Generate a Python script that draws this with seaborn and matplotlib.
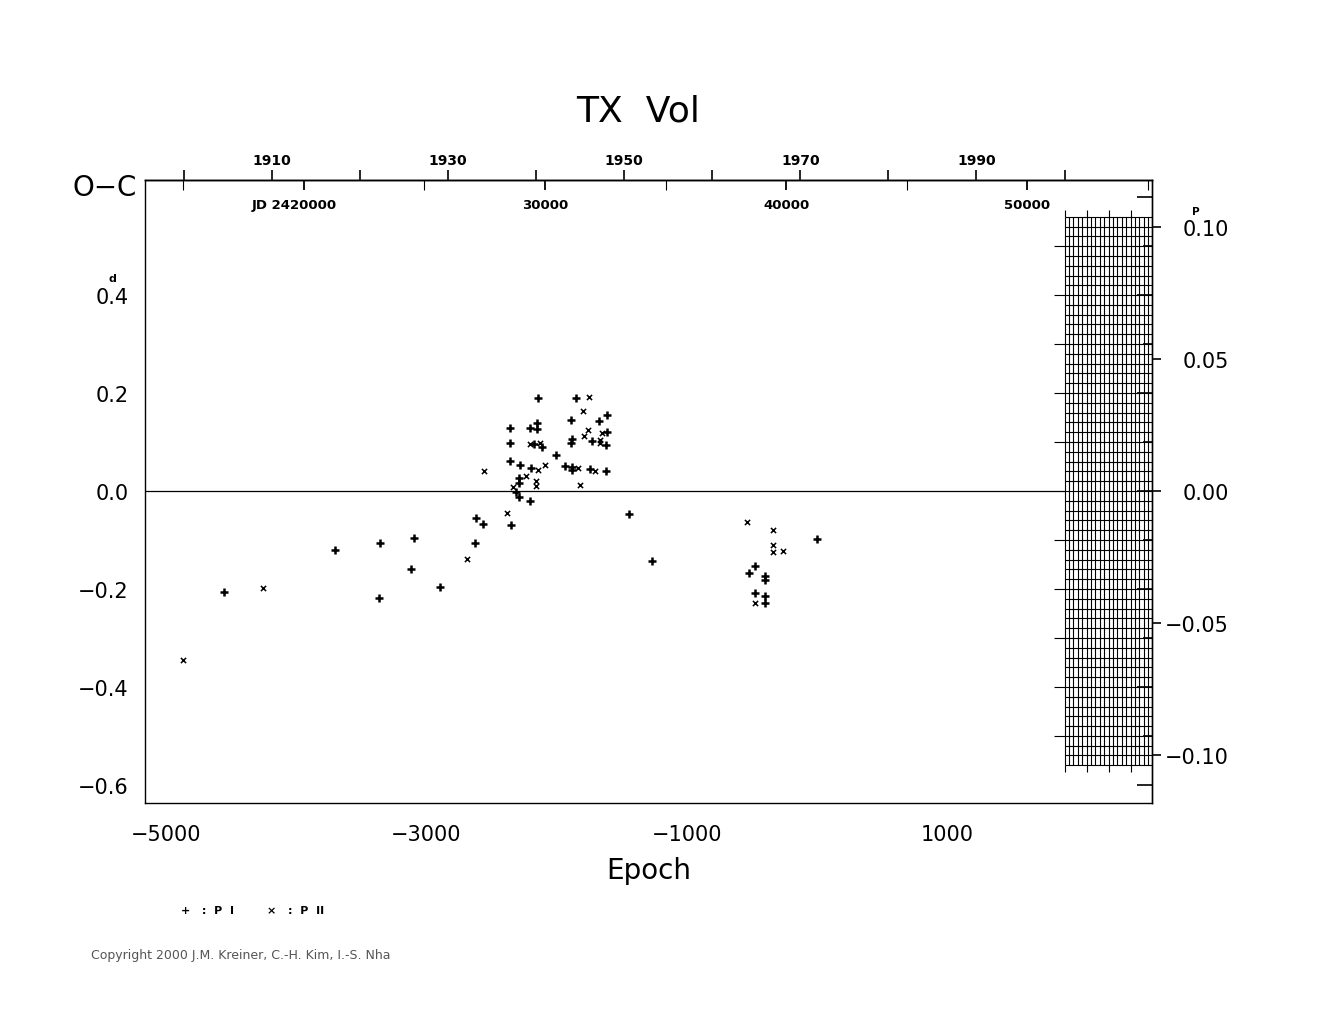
import numpy as np
import pandas as pd
import matplotlib
matplotlib.use('Agg')
import matplotlib.pyplot as plt
import seaborn as sns

# O-C of times of minima (days) against epoch
ep_p1 = [-4552, -3702, -3359, -3366, -3095, -3118, -2898, -2627, -2619, -2563,
         -2145, -1853, -1615, -1889, -1674, -2356, -2207, -2148, -2148, -1615,
         -1882, -1887, -1728, -1621, -2356, -2177, -2110, -2005, -2356, -2283,
         -2199, -1935, -1884, -1879, -1741, -1623, -2289, -2291, -2312, -2287,
         -2207, -2348, -1444, -1270, 0, -474, -522, -402, -397, -474,
         -402, -397]
oc_p1 = [-0.207, -0.120, -0.106, -0.218, -0.096, -0.159, -0.195, -0.106, -0.056, -0.067,
         0.190, 0.190, 0.156, 0.145, 0.143, 0.129, 0.129, 0.139, 0.127, 0.121,
         0.106, 0.098, 0.103, 0.094, 0.099, 0.097, 0.089, 0.074, 0.062, 0.053,
         0.046, 0.052, 0.050, 0.042, 0.045, 0.040, 0.027, 0.016, -0.001, -0.013,
         -0.020, -0.069, -0.046, -0.143, -0.098, -0.153, -0.167, -0.174, -0.181, -0.208,
         -0.214, -0.228]

ep_p2 = [-4867, -4257, -2691, -2558, -1751, -1797, -1757, -1654, -1790, -1667,
         -1667, -2204, -2127, -2145, -2089, -1833, -1703, -2235, -2160, -2156,
         -1818, -2333, -2384, -540, -338, -336, -338, -261, -479]
oc_p2 = [-0.346, -0.199, -0.139, 0.040, 0.192, 0.163, 0.125, 0.118, 0.112, 0.105,
         0.098, 0.097, 0.099, 0.043, 0.054, 0.047, 0.040, 0.030, 0.020, 0.011,
         0.012, 0.008, -0.044, -0.063, -0.079, -0.110, -0.124, -0.122, -0.229]

# ephemeris used for the top (JD / year) and right (phase) scales
T0 = 2441286.0
PERIOD = 5.40

year_ticks = list(range(1900, 2001, 10))
year_labels = [str(y) if (y - 1910) % 20 == 0 and y < 2000 else '' for y in year_ticks]
jd_major = [2420000, 2430000, 2440000, 2450000]
jd_labels = ['JD 2420000    ', '30000', '40000', '50000']
jd_minor = [2415000, 2425000, 2435000, 2445000, 2455000]
p_ticks = [-0.10, -0.05, 0.0, 0.05, 0.10]
p_labels = ['\u22120.10', '\u22120.05', '0.00', '0.05', '0.10']
d_ticks = [-0.6, -0.4, -0.2, 0.0, 0.2, 0.4, 0.6]
d_labels = ['\u22120.6', '\u22120.4', '\u22120.2', '0.0', '0.2', '0.4', '']


def ep2jd(e):
    return T0 + PERIOD * np.asarray(e, dtype=float)


def jd2ep(jd):
    return (np.asarray(jd, dtype=float) - T0) / PERIOD


def ep2yr(e):
    return 2000.0 + (ep2jd(e) - 2451545.0) / 365.25


def yr2ep(y):
    return jd2ep(2451545.0 + (np.asarray(y, dtype=float) - 2000.0) * 365.25)


df1 = pd.DataFrame({'epoch': ep_p1, 'oc': oc_p1})
df2 = pd.DataFrame({'epoch': ep_p2, 'oc': oc_p2})

sns.set_style('white')
plt.rcParams['font.family'] = ['DejaVu Sans']
plt.rcParams.update({'text.color': 'black', 'axes.labelcolor': 'black',
                     'xtick.color': 'black', 'ytick.color': 'black'})

fig = plt.figure(figsize=(13.25, 10.2), dpi=100)
ax = fig.add_axes([145 / 1325, 1 - 804 / 1020, 1007 / 1325, 623 / 1020])

sns.scatterplot(data=df1, x='epoch', y='oc', marker='+', s=40, linewidth=1.8,
                color='black', ax=ax)
sns.scatterplot(data=df2, x='epoch', y='oc', marker='x', s=14, linewidth=1.1,
                color='black', ax=ax)

ax.set_xlim(-5161, 2571)
ax.set_ylim(-0.637, 0.635)

# zero line up to the hatched block
e2000 = float(yr2ep(2000))
ax.hlines(0, -5161, e2000, color='black', lw=0.9)

# grid block on the right
gx = yr2ep(2000 + 0.5 * np.arange(21))
gy = np.arange(-28, 29) * 0.02
ax.vlines(gx, -0.56, 0.56, color='black', lw=0.8)
ax.hlines(gy, e2000, 2571, color='black', lw=0.8)
gt = yr2ep([2000, 2002.5, 2005, 2007.5])
ax.vlines(gt, 0.56, 0.573, color='black', lw=0.8)
ax.vlines(gt, -0.573, -0.56, color='black', lw=0.8)
ax.hlines([-0.5, -0.4, -0.3, -0.2, -0.1, 0.1, 0.2, 0.3, 0.4, 0.5],
          e2000 - 84, e2000, color='black', lw=0.8)

for s in ax.spines.values():
    s.set_linewidth(1.0)
    s.set_color('black')

ax.set_xticks([-5000, -3000, -1000, 1000])
ax.set_xticks([-4000, -2000, 0, 2000], minor=True)
ax.set_yticks(d_ticks, labels=d_labels)
ax.set_yticks([-0.5, -0.3, -0.1, 0.1, 0.3, 0.5], minor=True)
ax.tick_params(which='both', direction='in', top=False, right=True, width=1.2,
               colors='black', labelsize=15)
ax.tick_params(which='major', length=10.5)
ax.tick_params(which='minor', length=6.5)
ax.tick_params(axis='x', pad=15)
ax.tick_params(axis='y', pad=12)
ax.set_xlabel('Epoch', fontsize=20, labelpad=9, color='black')
ax.set_ylabel('')

# top scales: calendar years and JD
sec_yr = ax.secondary_xaxis('top', functions=(ep2yr, yr2ep))
sec_yr.set_xticks(year_ticks, labels=year_labels, fontweight='bold', fontsize=10)
sec_yr.tick_params(direction='out', length=7, width=1.2, pad=2, colors='black')
sec_yr.spines['top'].set_linewidth(1.0)

sec_jd = ax.secondary_xaxis('top', functions=(ep2jd, jd2ep))
sec_jd.set_xticks(jd_major, labels=jd_labels, fontweight='bold', fontsize=9.5)
sec_jd.set_xticks(jd_minor, minor=True)
sec_jd.tick_params(which='both', direction='in', length=7.5, pad=-22, colors='black')
sec_jd.tick_params(which='major', width=1.3)
sec_jd.tick_params(which='minor', width=0.8)
sec_jd.spines['top'].set_linewidth(1.0)

# right scale in units of the period
sec_p = ax.secondary_yaxis('right', functions=(lambda d: d / PERIOD, lambda p: p * PERIOD))
sec_p.set_yticks(p_ticks, labels=p_labels, fontsize=15, ha='right')
sec_p.tick_params(direction='out', length=6.5, width=1.2, pad=49, colors='black')
sec_p.spines['right'].set_linewidth(1.0)

# unit marks above the decimal point
ax.annotate('P', xy=(1, 0.10 * PERIOD), xycoords=('axes fraction', 'data'),
            xytext=(44, 16), textcoords='offset pixels', fontsize=7.5,
            fontweight='bold', ha='center', va='center')
ax.annotate('d', xy=(0, 0.4), xycoords=('axes fraction', 'data'),
            xytext=(-33, 17), textcoords='offset pixels', fontsize=8,
            fontweight='bold', ha='center', va='center')
ax.text(-0.040, 0.989, 'O\u2212C', transform=ax.transAxes, fontsize=20,
        ha='center', va='center')

fig.text(638 / 1325, 1 - 112 / 1020, 'TX  Vol', fontsize=26, ha='center', va='center')
fig.text(181 / 1325, 1 - 911 / 1020, '+   :  P  I', fontsize=8, fontweight='bold', va='center')
fig.text(267 / 1325, 1 - 911 / 1020, '\u00d7   :  P  II', fontsize=8, fontweight='bold', va='center')
fig.text(91 / 1325, 1 - 956 / 1020, 'Copyright 2000 J.M. Kreiner, C.-H. Kim, I.-S. Nha',
         fontsize=9, color='#555555', va='center')

fig.savefig('out.png', dpi=100, facecolor='white')
